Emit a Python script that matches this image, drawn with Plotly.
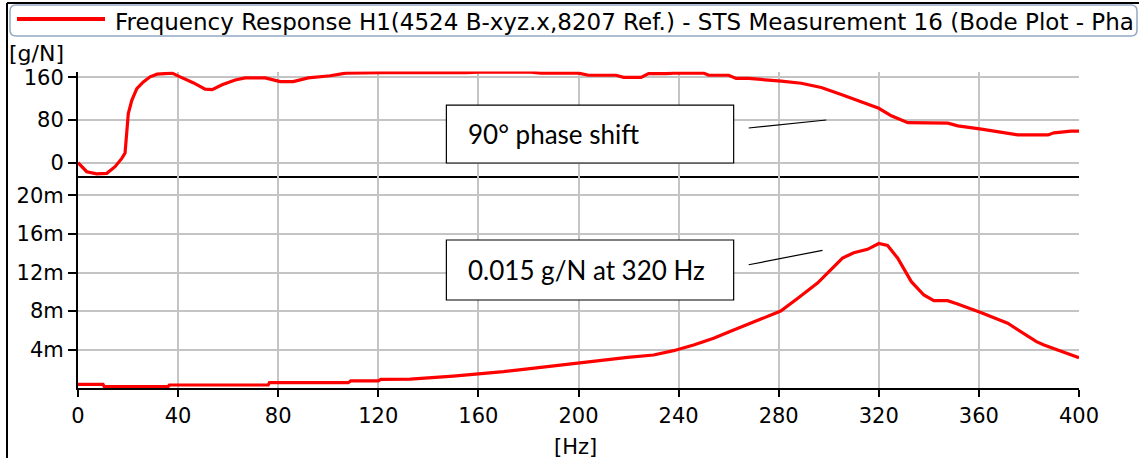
import plotly.graph_objects as go

# Frequency response H1 — phase (upper panel) and magnitude (lower panel)
phase_hz = [0, 3.5, 7.5, 11.5, 14.8, 17.5, 18.8, 20.1, 21.5, 23.5,
            26, 28.8, 31.6, 37.6, 40.8, 46, 50.8, 53.6, 57.6, 62.8,
            66.8, 74.8, 80.8, 86, 92, 100.8, 107, 121, 155, 160,
            180, 185, 200, 204, 215, 218, 225, 228, 235, 238,
            250, 252, 260, 263, 268, 275, 281, 289, 297, 305,
            313, 320, 325, 331.6, 347.6, 351.6, 361, 370, 375.5, 387.6,
            390, 396.8, 400]
phase_val = [0, -17, -21, -20, -7.5, 8, 18, 92, 117, 139,
             151, 161, 166, 168, 161, 150, 138, 137, 146, 155,
             159, 159, 152, 152, 159, 163, 168, 169, 169, 170,
             170, 168, 168, 164, 164, 160, 160, 167, 167, 168,
             168, 164, 164, 158, 158, 156, 153, 149, 141, 128,
             114, 102, 88, 75, 74, 69, 63, 57, 52, 52,
             56, 59, 59]

# magnitude in milli-g/N
mag_hz = [0, 10, 10.5, 36, 36.5, 76, 76.5, 108, 109, 120,
          121, 132.8, 150, 160.8, 170, 178, 191.6, 200.8, 208.8, 219.6,
          230, 238, 246, 254, 262, 270, 280.8, 287.5, 295.5, 305.5,
          310, 315.5, 320, 323.5, 327.5, 333, 338, 342, 347.5, 351.5,
          361, 371.5, 378, 383, 386, 391.5, 400]
mag_val = [0.41, 0.41, 0.17, 0.17, 0.34, 0.34, 0.58, 0.58, 0.76, 0.76,
           0.92, 0.96, 1.27, 1.48, 1.72, 1.97, 2.38, 2.65, 2.93, 3.21,
           3.45, 3.9, 4.49, 5.18, 6.04, 6.9, 8.0, 9.3, 10.9, 13.5,
           14.05, 14.4, 15.0, 14.8, 13.5, 11.05, 9.67, 9.08, 9.08, 8.73,
           7.83, 6.74, 5.7, 4.83, 4.49, 3.97, 3.17]

x_ticks = [0, 40, 80, 120, 160, 200, 240, 280, 320, 360, 400]
phase_ticks = [0, 80, 160]
mag_ticks = [4, 8, 12, 16, 20]
mag_ticktext = ["4m", "8m", "12m", "16m", "20m"]

series_name = "Frequency Response H1(4524 B-xyz.x,8207 Ref.) - STS Measurement 16 (Bode Plot - Pha"

W, H = 1139, 458


def px(x):
    return x / W


def py(y):
    return 1 - y / H


RED = "#ff0000"
GRID = "#c4c4c4"
TICKFONT = dict(family="DejaVu Sans", size=21, color="black")

fig = go.Figure()
fig.add_trace(go.Scatter(x=phase_hz, y=phase_val, mode="lines",
                         line=dict(color=RED, width=3.2), xaxis="x", yaxis="y",
                         showlegend=False, name=series_name))
fig.add_trace(go.Scatter(x=mag_hz, y=mag_val, mode="lines",
                         line=dict(color=RED, width=3.2), xaxis="x2", yaxis="y2",
                         showlegend=False, name=series_name))

x_dom = [px(78), px(1079)]

axis_common = dict(showgrid=True, gridcolor=GRID, gridwidth=1.5, zeroline=False,
                   showline=True, linecolor="black", linewidth=2, automargin=False)

fig.update_layout(
    template="none",
    width=W, height=H,
    margin=dict(l=0, r=0, t=0, b=0, pad=0),
    paper_bgcolor="white", plot_bgcolor="white",
    xaxis=dict(domain=x_dom, range=[0, 400], tickvals=x_ticks, showticklabels=False,
               ticks="", anchor="y", **axis_common),
    yaxis=dict(domain=[py(176), py(71.5)], range=[-25, 171], tickvals=phase_ticks,
               ticks="outside", ticklen=8, tickwidth=2, tickcolor="black",
               tickfont=TICKFONT, anchor="x", **axis_common),
    xaxis2=dict(domain=x_dom, range=[0, 400], tickvals=x_ticks, ticks="outside",
                ticklen=7, tickwidth=2, tickcolor="black", tickfont=TICKFONT,
                anchor="y2", **axis_common),
    yaxis2=dict(domain=[py(388.3), py(176)], range=[0, 22], tickvals=mag_ticks,
                ticktext=mag_ticktext, ticks="outside", ticklen=8, tickwidth=2,
                tickcolor="black", tickfont=TICKFONT, anchor="x2", **axis_common),
)

shapes = []
# outer frame (top and left edges)
shapes.append(dict(type="line", xref="paper", yref="paper", x0=px(7), x1=px(1139),
                   y0=py(3), y1=py(3), line=dict(color="black", width=2)))
shapes.append(dict(type="line", xref="paper", yref="paper", x0=px(7), x1=px(7),
                   y0=py(3), y1=py(458), line=dict(color="black", width=2)))

# legend box with rounded corners
lx0, lx1, ly0, ly1, r = 10, 1137, 5, 36, 6
path = (f"M {px(lx0 + r)},{py(ly0)} L {px(lx1 - r)},{py(ly0)} "
        f"Q {px(lx1)},{py(ly0)} {px(lx1)},{py(ly0 + r)} "
        f"L {px(lx1)},{py(ly1 - r)} Q {px(lx1)},{py(ly1)} {px(lx1 - r)},{py(ly1)} "
        f"L {px(lx0 + r)},{py(ly1)} Q {px(lx0)},{py(ly1)} {px(lx0)},{py(ly1 - r)} "
        f"L {px(lx0)},{py(ly0 + r)} Q {px(lx0)},{py(ly0)} {px(lx0 + r)},{py(ly0)} Z")
shapes.append(dict(type="path", xref="paper", yref="paper", path=path,
                   line=dict(color="#93a8c4", width=1.5), fillcolor="rgba(0,0,0,0)"))
shapes.append(dict(type="line", xref="paper", yref="paper", x0=px(17), x1=px(105),
                   y0=py(19), y1=py(19), line=dict(color=RED, width=4)))

# callout boxes and leader lines
shapes.append(dict(type="rect", xref="x", yref="y", x0=147.2, x1=262, y0=-0.6, y1=108,
                   line=dict(color="black", width=1.2), fillcolor="white", layer="above"))
shapes.append(dict(type="line", xref="x", yref="y", x0=268, x1=299, y0=65, y1=80,
                   line=dict(color="black", width=1.2)))
shapes.append(dict(type="rect", xref="x2", yref="y2", x0=147.2, x1=262, y0=9.15, y1=15.37,
                   line=dict(color="black", width=1.2), fillcolor="white", layer="above"))
shapes.append(dict(type="line", xref="x2", yref="y2", x0=268, x1=297.5, y0=12.8, y1=14.3,
                   line=dict(color="black", width=1.2)))
fig.update_layout(shapes=shapes)

ann_font = dict(family="Lato", size=26, color="black")
annotations = [
    dict(xref="paper", yref="paper", x=px(113), y=py(22), xanchor="left", yanchor="middle",
         text=series_name, showarrow=False,
         font=dict(family="DejaVu Sans", size=23, color="black")),
    dict(xref="paper", yref="paper", x=px(7), y=py(54), xanchor="left", yanchor="middle",
         text="[g/N]", showarrow=False,
         font=dict(family="DejaVu Sans", size=22, color="black")),
    dict(xref="paper", yref="paper", x=px(575), y=py(447), xanchor="center", yanchor="middle",
         text="[Hz]", showarrow=False, font=TICKFONT),
    dict(xref="x", yref="y", x=155.0, y=54, xanchor="left", yanchor="middle",
         text="90° phase shift", showarrow=False, font=ann_font),
    dict(xref="x2", yref="y2", x=155.0, y=12.26, xanchor="left", yanchor="middle",
         text="0.015 g/N at 320 Hz", showarrow=False, font=ann_font),
]
fig.update_layout(annotations=annotations)

fig.write_html("out.html")
